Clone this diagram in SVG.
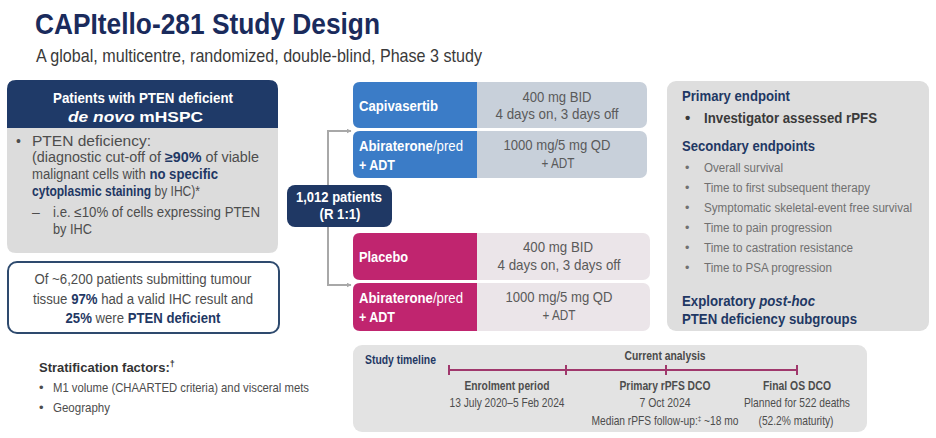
<svg xmlns="http://www.w3.org/2000/svg" width="936" height="438" viewBox="0 0 936 438">
<defs>
<style>
text{font-family:"Liberation Sans",Arial,sans-serif;}
.b{font-weight:bold;}
.navy{fill:#1f3864;}
.wt{fill:#ffffff;}
.body{font-size:14px;fill:#4d4d4d;}
.dose{font-size:14.5px;fill:#5a5a5a;}
.arm{font-size:14.5px;fill:#ffffff;}
.ep{font-size:15px;font-weight:bold;fill:#1f3864;}
.sec{font-size:12.5px;fill:#707070;}
.tl{font-size:13px;fill:#4d4d4d;}
.conn{fill:none;stroke:#a8a8a8;stroke-width:2;}
.tick{stroke:#a0386c;stroke-width:2;}
</style>
<marker id="ah" viewBox="0 0 10 10" refX="9" refY="5" markerWidth="5" markerHeight="5" orient="auto" markerUnits="userSpaceOnUse">
<path d="M0,0 L10,5 L0,10 z" fill="#a8a8a8"/>
</marker>
</defs>
<rect width="936" height="438" fill="#ffffff"/>

<g id="title">
<text x="35" y="34" class="b" font-size="30" fill="#1a2b5c" textLength="345" lengthAdjust="spacingAndGlyphs">CAPItello-281 Study Design</text>
<text x="36" y="62" font-size="19" fill="#3a3a3a" textLength="446" lengthAdjust="spacingAndGlyphs">A global, multicentre, randomized, double-blind, Phase 3 study</text>
</g>

<g id="population">
<path d="M7,89 Q7,80 16,80 H269 Q278,80 278,89 V128 H7 Z" fill="#1f3a68"/>
<path d="M7,128 H278 V244 Q278,253 269,253 H16 Q7,253 7,244 Z" fill="#dcdcdc"/>
<text x="143" y="103" class="b wt" font-size="15" text-anchor="middle" textLength="180" lengthAdjust="spacingAndGlyphs">Patients with PTEN deficient</text>
<text x="68" y="122" class="b wt" font-size="15" textLength="135" lengthAdjust="spacingAndGlyphs"><tspan font-style="italic">de novo</tspan> mHSPC</text>
<text x="16" y="146" class="body">•</text>
<text x="32" y="146" class="body" textLength="119" lengthAdjust="spacingAndGlyphs">PTEN deficiency:</text>
<text x="32" y="162" class="body" textLength="227" lengthAdjust="spacingAndGlyphs">(diagnostic cut-off of <tspan class="b navy">≥90%</tspan> of viable</text>
<text x="32" y="179" class="body" textLength="186" lengthAdjust="spacingAndGlyphs">malignant cells with <tspan class="b navy">no specific</tspan></text>
<text x="32" y="196" class="body" textLength="168" lengthAdjust="spacingAndGlyphs"><tspan class="b navy">cytoplasmic staining</tspan> by IHC)*</text>
<text x="32" y="217" class="body">–</text>
<text x="53" y="217" class="body" textLength="207" lengthAdjust="spacingAndGlyphs">i.e. ≤10% of cells expressing PTEN</text>
<text x="53" y="234" class="body" textLength="39" lengthAdjust="spacingAndGlyphs">by IHC</text>
</g>

<g id="screening">
<rect x="8" y="262" width="271" height="71" rx="9" fill="#ffffff" stroke="#2e4a6e" stroke-width="2"/>
<text x="143" y="284" class="body" text-anchor="middle" textLength="217" lengthAdjust="spacingAndGlyphs">Of ~6,200 patients submitting tumour</text>
<text x="143" y="304" class="body" text-anchor="middle" textLength="220" lengthAdjust="spacingAndGlyphs">tissue <tspan class="b navy">97%</tspan> had a valid IHC result and</text>
<text x="143" y="323" class="body" text-anchor="middle" textLength="155" lengthAdjust="spacingAndGlyphs"><tspan class="b navy">25%</tspan> were <tspan class="b navy">PTEN deficient</tspan></text>
</g>

<g id="stratification">
<text x="39" y="372" class="b" font-size="13" fill="#333333">Stratification factors:<tspan font-size="9" dy="-5">†</tspan></text>
<text x="39" y="392" font-size="13" fill="#4d4d4d">•</text>
<text x="53" y="392" font-size="13" fill="#4d4d4d" textLength="256" lengthAdjust="spacingAndGlyphs">M1 volume (CHAARTED criteria) and visceral mets</text>
<text x="39" y="412" font-size="13" fill="#4d4d4d">•</text>
<text x="53" y="412" font-size="13" fill="#4d4d4d" textLength="57" lengthAdjust="spacingAndGlyphs">Geography</text>
</g>

<g id="connectors">
<path class="conn" d="M328,185 V131 H351" marker-end="url(#ah)"/>
<path class="conn" d="M328,227 V285 H351" marker-end="url(#ah)"/>
</g>

<g id="randomization">
<rect x="287" y="185" width="105" height="42" rx="8" fill="#1f3864"/>
<text x="339" y="202" class="b wt" font-size="15" text-anchor="middle" textLength="86" lengthAdjust="spacingAndGlyphs">1,012 patients</text>
<text x="340" y="219" class="b wt" font-size="15" text-anchor="middle" textLength="41" lengthAdjust="spacingAndGlyphs">(R 1:1)</text>
</g>

<g id="capivasertib-arm">
<rect x="353" y="82" width="294" height="46" rx="7" fill="#c8d0da"/>
<path d="M360,82 H477 V128 H360 Q353,128 353,121 V89 Q353,82 360,82 Z" fill="#3b7cc7"/>
<text x="359" y="111" class="arm b" textLength="79" lengthAdjust="spacingAndGlyphs">Capivasertib</text>
<text x="557" y="102" class="dose" text-anchor="middle" textLength="69" lengthAdjust="spacingAndGlyphs">400 mg BID</text>
<text x="557" y="119" class="dose" text-anchor="middle" textLength="123" lengthAdjust="spacingAndGlyphs">4 days on, 3 days off</text>
<rect x="353" y="131" width="294" height="47" rx="7" fill="#c8d0da"/>
<path d="M360,131 H477 V178 H360 Q353,178 353,171 V138 Q353,131 360,131 Z" fill="#3b7cc7"/>
<text x="359" y="151" class="arm" textLength="104" lengthAdjust="spacingAndGlyphs"><tspan class="b">Abiraterone</tspan>/pred</text>
<text x="359" y="170" class="arm b" textLength="36" lengthAdjust="spacingAndGlyphs">+ ADT</text>
<text x="557" y="150" class="dose" text-anchor="middle" textLength="107" lengthAdjust="spacingAndGlyphs">1000 mg/5 mg QD</text>
<text x="558" y="168" class="dose" text-anchor="middle" textLength="33" lengthAdjust="spacingAndGlyphs">+ ADT</text>
</g>

<g id="placebo-arm">
<rect x="353" y="233" width="297" height="47" rx="7" fill="#ebe5e9"/>
<path d="M360,233 H477 V280 H360 Q353,280 353,273 V240 Q353,233 360,233 Z" fill="#c0256f"/>
<text x="359" y="262" class="arm b" textLength="49" lengthAdjust="spacingAndGlyphs">Placebo</text>
<text x="558" y="252" class="dose" text-anchor="middle" textLength="70" lengthAdjust="spacingAndGlyphs">400 mg BID</text>
<text x="559" y="270" class="dose" text-anchor="middle" textLength="123" lengthAdjust="spacingAndGlyphs">4 days on, 3 days off</text>
<rect x="353" y="283" width="297" height="48" rx="7" fill="#ebe5e9"/>
<path d="M360,283 H477 V331 H360 Q353,331 353,324 V290 Q353,283 360,283 Z" fill="#c0256f"/>
<text x="359" y="303" class="arm" textLength="104" lengthAdjust="spacingAndGlyphs"><tspan class="b">Abiraterone</tspan>/pred</text>
<text x="359" y="322" class="arm b" textLength="36" lengthAdjust="spacingAndGlyphs">+ ADT</text>
<text x="559" y="302" class="dose" text-anchor="middle" textLength="107" lengthAdjust="spacingAndGlyphs">1000 mg/5 mg QD</text>
<text x="559" y="320" class="dose" text-anchor="middle" textLength="33" lengthAdjust="spacingAndGlyphs">+ ADT</text>
</g>

<g id="endpoints">
<rect x="667" y="81" width="262" height="250" rx="9" fill="#dedede"/>
<text x="682" y="101" class="ep" textLength="108" lengthAdjust="spacingAndGlyphs">Primary endpoint</text>
<text x="685" y="123" class="b" font-size="15" fill="#3a3a3a">•</text>
<text x="704" y="123" class="b" font-size="14.5" fill="#3a3a3a" textLength="173" lengthAdjust="spacingAndGlyphs">Investigator assessed rPFS</text>
<text x="682" y="151" class="ep" textLength="133" lengthAdjust="spacingAndGlyphs">Secondary endpoints</text>
<text x="685" y="172" class="sec">•</text>
<text x="704" y="172" class="sec" textLength="79" lengthAdjust="spacingAndGlyphs">Overall survival</text>
<text x="685" y="192" class="sec">•</text>
<text x="704" y="192" class="sec" textLength="166" lengthAdjust="spacingAndGlyphs">Time to first subsequent therapy</text>
<text x="685" y="212" class="sec">•</text>
<text x="704" y="212" class="sec" textLength="208" lengthAdjust="spacingAndGlyphs">Symptomatic skeletal-event free survival</text>
<text x="685" y="232" class="sec">•</text>
<text x="704" y="232" class="sec" textLength="128" lengthAdjust="spacingAndGlyphs">Time to pain progression</text>
<text x="685" y="252" class="sec">•</text>
<text x="704" y="252" class="sec" textLength="149" lengthAdjust="spacingAndGlyphs">Time to castration resistance</text>
<text x="685" y="272" class="sec">•</text>
<text x="704" y="272" class="sec" textLength="128" lengthAdjust="spacingAndGlyphs">Time to PSA progression</text>
<text x="682" y="306" class="ep" textLength="133" lengthAdjust="spacingAndGlyphs">Exploratory <tspan font-style="italic">post-hoc</tspan></text>
<text x="682" y="324" class="ep" textLength="175" lengthAdjust="spacingAndGlyphs">PTEN deficiency subgroups</text>
</g>

<g id="timeline">
<rect x="353" y="345" width="514" height="87" rx="9" fill="#e3e3e3"/>
<text x="365" y="364" class="b navy" font-size="13" textLength="71" lengthAdjust="spacingAndGlyphs">Study timeline</text>
<text x="665" y="360" class="b" font-size="13" fill="#4a4a4a" text-anchor="middle" textLength="81" lengthAdjust="spacingAndGlyphs">Current analysis</text>
<line class="tick" x1="449" y1="370" x2="797" y2="370"/>
<line class="tick" x1="449" y1="365" x2="449" y2="375"/>
<line class="tick" x1="566" y1="365" x2="566" y2="375"/>
<line class="tick" x1="666" y1="365" x2="666" y2="375"/>
<line class="tick" x1="797" y1="365" x2="797" y2="375"/>
<text x="507" y="390" class="tl b" font-size="13.5" text-anchor="middle" textLength="85" lengthAdjust="spacingAndGlyphs">Enrolment period</text>
<text x="507" y="407" class="tl" text-anchor="middle" textLength="115" lengthAdjust="spacingAndGlyphs">13 July 2020–5 Feb 2024</text>
<text x="665" y="390" class="tl b" font-size="13.5" text-anchor="middle" textLength="91" lengthAdjust="spacingAndGlyphs">Primary rPFS DCO</text>
<text x="665" y="407" class="tl" text-anchor="middle" textLength="51" lengthAdjust="spacingAndGlyphs">7 Oct 2024</text>
<text x="665" y="425" class="tl" text-anchor="middle" textLength="147" lengthAdjust="spacingAndGlyphs">Median rPFS follow-up:<tspan font-size="8" dy="-4">‡</tspan><tspan dy="4"> ~18 mo</tspan></text>
<text x="797" y="390" class="tl b" font-size="13.5" text-anchor="middle" textLength="68" lengthAdjust="spacingAndGlyphs">Final OS DCO</text>
<text x="797" y="407" class="tl" text-anchor="middle" textLength="106" lengthAdjust="spacingAndGlyphs">Planned for 522 deaths</text>
<text x="796" y="425" class="tl" text-anchor="middle" textLength="75" lengthAdjust="spacingAndGlyphs">(52.2% maturity)</text>
</g>
</svg>
